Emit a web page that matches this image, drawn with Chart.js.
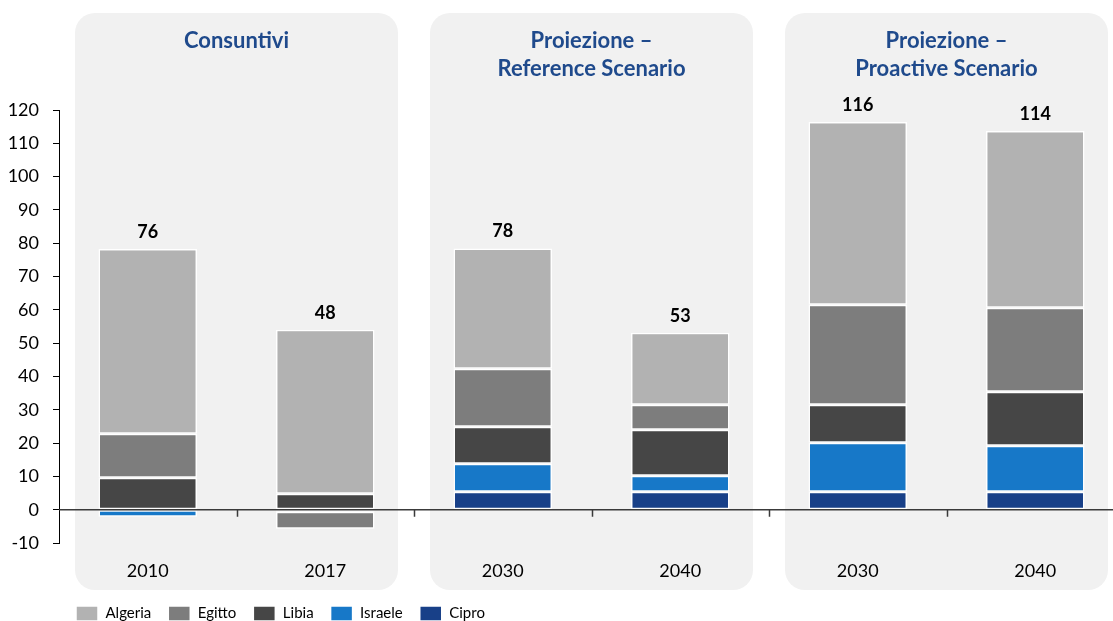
<!DOCTYPE html>
<html>
<head>
<meta charset="utf-8">
<script src="https://cdn.jsdelivr.net/npm/chart.js@4.4.1/dist/chart.umd.min.js"></script>
<style>
  html, body { margin: 0; padding: 0; background: #fff; overflow: hidden; }
  #wrap { width: 1124px; height: 631px; }
</style>
</head>
<body>
<div id="wrap"><canvas id="chart"></canvas></div>
<script>
// categories and groups
var anni = ["2010", "2017", "2030", "2040", "2030", "2040"];
var gruppi = [["Consuntivi"], ["Proiezione \u2013", "Reference Scenario"], ["Proiezione \u2013", "Proactive Scenario"]];

// series values (stacked, bottom to top)
var cipro   = [0,    0,    5.4,  5.4,  5.4,  5.4];
var israele = [-2.1, -0.6, 8.4,  4.8,  14.7, 13.8];
var libia   = [9.6,  4.8,  11.1, 13.8, 11.4, 16.2];
var egitto  = [13.2, -5.1, 17.4, 7.5,  30.0, 25.2];
var algeria = [55.5, 49.2, 36.1, 21.6, 54.9, 53.1];

var yMin = -10, yMax = 120, yStep = 10;

// bottom of the stack first
var serie = [
  { label: "Cipro",   data: cipro,   color: "#184088" },
  { label: "Israele", data: israele, color: "#1778c8" },
  { label: "Libia",   data: libia,   color: "#464646" },
  { label: "Egitto",  data: egitto,  color: "#7d7d7d" },
  { label: "Algeria", data: algeria, color: "#b2b2b2" }
];

var fontName = "Lato, 'Open Sans', sans-serif";

// panels, titles, zero line, x ticks and totals
var decorPlugin = {
  id: "decor",
  beforeDraw: function(chart) {
    var ctx = chart.ctx, x = chart.scales.x;
    var cw = x.getPixelForValue(1) - x.getPixelForValue(0);
    ctx.save();
    for (var g = 0; g < gruppi.length; g++) {
      var l = x.getPixelForValue(g * 2) - cw / 2 + 16;
      var r = x.getPixelForValue(g * 2 + 1) + cw / 2 - 16;
      var t = 13, b = 590;
      ctx.fillStyle = "#f1f1f1";
      ctx.beginPath();
      ctx.roundRect(l, t, r - l, b - t, 20);
      ctx.fill();
      ctx.fillStyle = "#1f4a8c";
      ctx.font = "bold 22px " + fontName;
      ctx.textAlign = "center";
      ctx.textBaseline = "middle";
      for (var k = 0; k < gruppi[g].length; k++) {
        ctx.fillText(gruppi[g][k], (l + r) / 2, 41 + k * 28);
      }
    }
    ctx.restore();
  },
  afterDatasetsDraw: function(chart) {
    var ctx = chart.ctx, x = chart.scales.x, y = chart.scales.y, area = chart.chartArea;
    var y0 = y.getPixelForValue(0);
    var cw = x.getPixelForValue(1) - x.getPixelForValue(0);
    ctx.save();
    ctx.strokeStyle = "#3a3a3a";
    ctx.lineWidth = 1.5;
    ctx.beginPath();
    ctx.moveTo(area.left, y0);
    ctx.lineTo(area.right, y0);
    for (var i = 1; i < anni.length; i++) {
      var bx = Math.round(x.getPixelForValue(i) - cw / 2) + 0.5;
      ctx.moveTo(bx, y0);
      ctx.lineTo(bx, y0 + 7);
    }
    ctx.stroke();

    ctx.fillStyle = "#000";
    ctx.font = "bold 18px " + fontName;
    ctx.textAlign = "center";
    ctx.textBaseline = "bottom";
    for (var j = 0; j < anni.length; j++) {
      var tot = 0, pos = 0;
      serie.forEach(function(s) {
        tot += s.data[j];
        if (s.data[j] > 0) pos += s.data[j];
      });
      ctx.fillText(Math.round(tot), x.getPixelForValue(j), y.getPixelForValue(pos) - 8);
    }
    ctx.restore();
  }
};

new Chart(document.getElementById("chart"), {
  type: "bar",
  data: {
    labels: anni,
    datasets: serie.map(function(s) {
      return {
        label: s.label,
        data: s.data,
        backgroundColor: s.color,
        borderColor: "#ffffff",
        borderWidth: 1.5,
        borderSkipped: false,
        barPercentage: 0.555,
        categoryPercentage: 1
      };
    })
  },
  options: {
    responsive: true,
    maintainAspectRatio: false,
    animation: false,
    layout: { padding: { top: 110, left: 9, right: 0, bottom: 0 } },
    plugins: {
      legend: {
        position: "bottom",
        align: "start",
        reverse: true,
        fullSize: false,
        labels: {
          boxWidth: 22,
          boxHeight: 15,
          padding: 17,
          color: "#000",
          font: { family: fontName, size: 15 }
        }
      },
      tooltip: { enabled: false }
    },
    scales: {
      x: {
        stacked: true,
        grid: { display: false, drawTicks: false },
        border: { display: false },
        ticks: { color: "#000", padding: 17, font: { family: fontName, size: 18 } },
        afterFit: function(scale) { scale.height = 46; }
      },
      y: {
        stacked: true,
        min: yMin,
        max: yMax,
        ticks: { stepSize: yStep, color: "#000", padding: 14, font: { family: fontName, size: 18 } },
        grid: { drawOnChartArea: false, tickLength: 6, tickColor: "#000", color: "#000" },
        border: { display: true, color: "#000", width: 1 },
        afterFit: function(scale) { scale.width = 50; }
      }
    }
  },
  plugins: [decorPlugin]
});
</script>
</body>
</html>
